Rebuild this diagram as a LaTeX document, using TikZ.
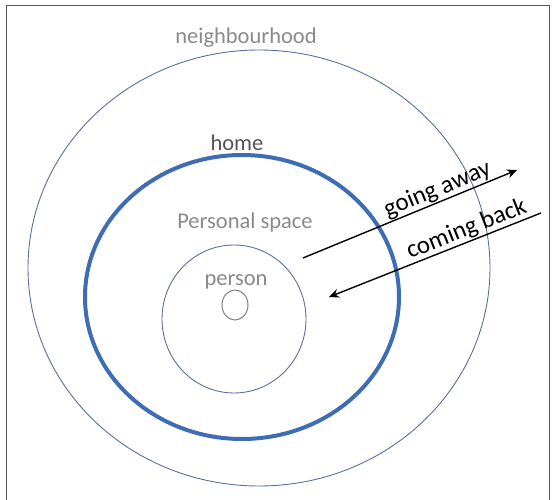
\documentclass[tikz,border=0pt]{standalone}
\usepackage{fontspec}
\setmainfont{Carlito}
\usetikzlibrary{shapes.geometric,arrows.meta}
\definecolor{ringblue}{HTML}{5B6E9C}
\definecolor{homeblue}{HTML}{3F6DB3}
\definecolor{labelgray}{HTML}{8A8A8A}
\definecolor{homegray}{HTML}{555555}
\tikzset{
  ring/.style={ellipse, draw=ringblue, line width=0.9pt, inner sep=0pt},
  homering/.style={ellipse, draw=homeblue, line width=4pt, inner sep=0pt},
  lbl/.style={font=\fontsize{22.5}{24}\selectfont, text=labelgray, inner sep=1pt},
  movearrow/.style={draw=black, line width=1.4pt, -{Stealth[length=10pt,width=9pt]}},
  movetext/.style={font=\fontsize{25}{27}\selectfont, inner sep=0.5pt, sloped, above},
}
\begin{document}
\begin{tikzpicture}[x=1pt,y=-1pt]
\useasboundingbox (0,0) rectangle (555,500);
\draw[draw=homegray, line width=1pt] (6,6) rectangle (549,510);
\node[ring, minimum width=462pt, minimum height=436pt] (neigh) at (259,268) {};
\node[homering, minimum width=314pt, minimum height=284pt] (home) at (242,297) {};
\node[ring, minimum width=144pt, minimum height=148pt] (pspace) at (234,319) {};
\node[ring, draw=gray, line width=1pt, minimum width=26pt, minimum height=30pt] (core) at (235,305) {};
\node[lbl] (tneigh) at (246,38) {neighbourhood};
\node[lbl, text=homegray] (thome) at (237,143) {home};
\node[lbl] (tps) at (245,223) {Personal space};
\node[lbl] (tperson) at (236,282) {person};
\coordinate (ga1) at (303,258);
\coordinate (ga2) at (517,170);
\coordinate (cb1) at (541,213);
\coordinate (cb2) at (329,297);
\draw[movearrow] (ga1) -- node[movetext, pos=0.65] (tga) {going away} (ga2);
\draw[movearrow] (cb1) -- node[movetext, pos=0.33] (tcb) {coming back} (cb2);
\end{tikzpicture}
\end{document}
